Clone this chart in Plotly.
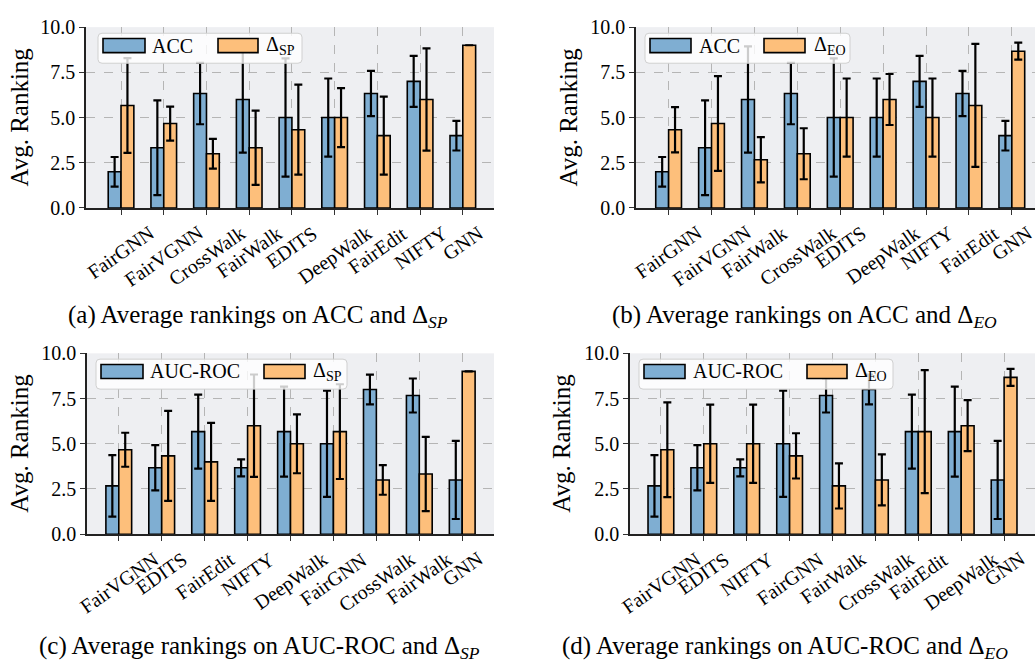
import plotly.graph_objects as go

W, H = 1035, 668

# ---------------- data ----------------
methods_a = ["FairGNN", "FairVGNN", "CrossWalk", "FairWalk", "EDITS", "DeepWalk", "FairEdit", "NIFTY", "GNN"]
acc_a = [2.0, 3.33, 6.33, 6.0, 5.0, 5.0, 6.33, 7.0, 4.0]
acc_a_err = [0.82, 2.62, 1.70, 2.94, 3.27, 2.16, 1.25, 1.41, 0.82]
sp_a = [5.67, 4.67, 3.0, 3.33, 4.33, 5.0, 4.0, 6.0, 9.0]
sp_a_err = [2.62, 0.94, 0.82, 2.05, 2.49, 1.63, 2.16, 2.83, 0.0]

methods_b = ["FairGNN", "FairVGNN", "FairWalk", "CrossWalk", "EDITS", "DeepWalk", "NIFTY", "FairEdit", "GNN"]
acc_b = [2.0, 3.33, 6.0, 6.33, 5.0, 5.0, 7.0, 6.33, 4.0]
acc_b_err = [0.82, 2.62, 2.94, 1.70, 3.27, 2.16, 1.41, 1.25, 0.82]
eo_b = [4.33, 4.67, 2.67, 3.0, 5.0, 6.0, 5.0, 5.67, 8.67]
eo_b_err = [1.25, 2.62, 1.25, 1.41, 2.16, 1.41, 2.16, 3.40, 0.47]

methods_c = ["FairVGNN", "EDITS", "FairEdit", "NIFTY", "DeepWalk", "FairGNN", "CrossWalk", "FairWalk", "GNN"]
auc_c = [2.67, 3.67, 5.67, 3.67, 5.67, 5.0, 8.0, 7.67, 3.0]
auc_c_err = [1.70, 1.25, 2.05, 0.47, 2.49, 2.94, 0.82, 0.94, 2.16]
sp_c = [4.67, 4.33, 4.0, 6.0, 5.0, 5.67, 3.0, 3.33, 9.0]
sp_c_err = [0.94, 2.49, 2.16, 2.83, 1.63, 2.62, 0.82, 2.05, 0.0]

methods_d = ["FairVGNN", "EDITS", "NIFTY", "FairGNN", "FairWalk", "CrossWalk", "FairEdit", "DeepWalk", "GNN"]
auc_d = [2.67, 3.67, 3.67, 5.0, 7.67, 8.0, 5.67, 5.67, 3.0]
auc_d_err = [1.70, 1.25, 0.47, 2.94, 0.94, 0.82, 2.05, 2.49, 2.16]
eo_d = [4.67, 5.0, 5.0, 4.33, 2.67, 3.0, 5.67, 6.0, 8.67]
eo_d_err = [2.62, 2.16, 2.16, 1.25, 1.25, 1.41, 3.40, 1.41, 0.47]

y_ticks = [0.0, 2.5, 5.0, 7.5, 10.0]

captions = [
    "(a) Average rankings on ACC and Δ<sub><i>SP</i></sub>",
    "(b) Average rankings on ACC and Δ<sub><i>EO</i></sub>",
    "(c) Average rankings on AUC-ROC and Δ<sub><i>SP</i></sub>",
    "(d) Average rankings on AUC-ROC and Δ<sub><i>EO</i></sub>",
]
legend_names = [("ACC", "Δ<sub>SP</sub>"), ("ACC", "Δ<sub>EO</sub>"),
                ("AUC-ROC", "Δ<sub>SP</sub>"), ("AUC-ROC", "Δ<sub>EO</sub>")]

BLUE = "#7FAED2"
ORANGE = "#FDBF7B"
FONT = "Liberation Serif"

def px(x):
    return x / W

def py(y):
    return 1 - y / H

# panel geometry (pixels)
panels = [
    dict(x0=86, x1=494, yt=16.7, yb=203.7, rng=[-0.82, 8.73], ytitle=20, cap=(258, 316)),
    dict(x0=636, x1=1035, yt=16.7, yb=203.7, rng=[-0.76, 8.54], ytitle=569, cap=(804, 316)),
    dict(x0=87, x1=494, yt=354, yb=541, rng=[-0.74, 8.74], ytitle=20, cap=(259, 658)),
    dict(x0=630, x1=1035, yt=354, yb=541, rng=[-0.72, 8.72], ytitle=562, cap=(785, 658)),
]
# legend geometry (pixels)
legends = [
    dict(box=(98, 23, 302, 54), s1=(103, 145), t1=150, s2=(218, 258), t2=264),
    dict(box=(645, 23, 850, 54), s1=(650, 691), t1=697, s2=(764, 805), t2=812),
    dict(box=(96, 360, 347, 391), s1=(101, 143), t1=148, s2=(264, 305), t2=311),
    dict(box=(639, 360, 893, 391), s1=(644, 685), t1=691, s2=(807, 847), t2=853),
]

series = [
    (methods_a, acc_a, acc_a_err, sp_a, sp_a_err),
    (methods_b, acc_b, acc_b_err, eo_b, eo_b_err),
    (methods_c, auc_c, auc_c_err, sp_c, sp_c_err),
    (methods_d, auc_d, auc_d_err, eo_d, eo_d_err),
]

fig = go.Figure()
layout = dict(
    width=W, height=H, margin=dict(l=0, r=0, t=0, b=0),
    paper_bgcolor="white", plot_bgcolor="#EEEFF2",
    barmode="group", bargap=0.4, bargroupgap=0.0,
    showlegend=False,
    font=dict(family=FONT, size=20, color="black"),
)
annotations = []
shapes = []

for i, (p, s, lg, names, cap) in enumerate(zip(panels, series, legends, legend_names, captions)):
    n = "" if i == 0 else str(i + 1)
    xa, ya = "x" + n, "y" + n
    cats, v1, e1, v2, e2 = s
    for vals, errs, col in ((v1, e1, BLUE), (v2, e2, ORANGE)):
        fig.add_trace(go.Bar(
            x=cats, y=vals, xaxis=xa, yaxis=ya,
            marker=dict(color=col, line=dict(color="black", width=1.6)),
            error_y=dict(type="data", array=errs, visible=True, color="black", thickness=2.2, width=4),
        ))
    layout["xaxis" + n] = dict(
        domain=[px(p["x0"]), px(p["x1"])], anchor=ya, type="category",
        categoryorder="array", categoryarray=cats,
        range=p["rng"], showticklabels=False, ticks="outside", ticklen=5, tickcolor="#333",
        showgrid=True, gridcolor="#B5B5B5", griddash="dash", gridwidth=1,
        showline=True, linecolor="#222", linewidth=1.5, zeroline=False,
    )
    layout["yaxis" + n] = dict(
        domain=[py(p["yb"]), py(p["yt"])], anchor=xa, range=[0, 10],
        tickvals=y_ticks, tickformat=".1f", ticks="outside", ticklen=5, tickcolor="#333",
        tickfont=dict(family=FONT, size=20),
        showgrid=True, gridcolor="#B5B5B5", griddash="dash", gridwidth=1,
        showline=True, linecolor="#222", linewidth=1.5, zeroline=False,
    )
    # category labels, rotated and centred under ticks
    for c in cats:
        annotations.append(dict(
            x=c, y=-0.06, xref=xa, yref=ya + " domain", text=c, showarrow=False,
            textangle=-35, xanchor="center", yanchor="top",
            font=dict(family=FONT, size=20),
        ))
    # y-axis title
    annotations.append(dict(
        x=px(p["ytitle"]), y=py((p["yt"] + p["yb"]) / 2), xref="paper", yref="paper",
        text="Avg. Ranking", showarrow=False, textangle=-90,
        xanchor="center", yanchor="middle", font=dict(family=FONT, size=25),
    ))
    # caption
    annotations.append(dict(
        x=px(p["cap"][0]), y=py(p["cap"][1]), xref="paper", yref="paper",
        text=cap, showarrow=False, xanchor="center", yanchor="middle",
        font=dict(family=FONT, size=25),
    ))
    # legend box (rounded)
    bx0, by0, bx1, by1 = lg["box"]
    r = 4
    path = (f"M {px(bx0 + r)},{py(by0)} L {px(bx1 - r)},{py(by0)} "
            f"Q {px(bx1)},{py(by0)} {px(bx1)},{py(by0 + r)} "
            f"L {px(bx1)},{py(by1 - r)} Q {px(bx1)},{py(by1)} {px(bx1 - r)},{py(by1)} "
            f"L {px(bx0 + r)},{py(by1)} Q {px(bx0)},{py(by1)} {px(bx0)},{py(by1 - r)} "
            f"L {px(bx0)},{py(by0 + r)} Q {px(bx0)},{py(by0)} {px(bx0 + r)},{py(by0)} Z")
    shapes.append(dict(type="path", path=path, xref="paper", yref="paper",
                       fillcolor="rgba(255,255,255,0.8)", line=dict(color="#D0D0D0", width=1),
                       layer="above"))
    sy0, sy1 = by0 + 5.5, by0 + 20
    for (sx0, sx1), col in ((lg["s1"], BLUE), (lg["s2"], ORANGE)):
        shapes.append(dict(type="rect", xref="paper", yref="paper",
                           x0=px(sx0), x1=px(sx1), y0=py(sy1), y1=py(sy0),
                           fillcolor=col, line=dict(color="black", width=1.6), layer="above"))
    for tx, name in ((lg["t1"], names[0]), (lg["t2"], names[1])):
        annotations.append(dict(
            x=px(tx), y=py((sy0 + sy1) / 2), xref="paper", yref="paper", text=name,
            showarrow=False, xanchor="left", yanchor="middle",
            font=dict(family=FONT, size=20),
        ))

layout["annotations"] = annotations
layout["shapes"] = shapes
fig.update_layout(**layout)
fig.write_html("out.html", config={"displayModeBar": False},
               post_script="document.body.style.margin='0';document.body.style.overflow='hidden';")
